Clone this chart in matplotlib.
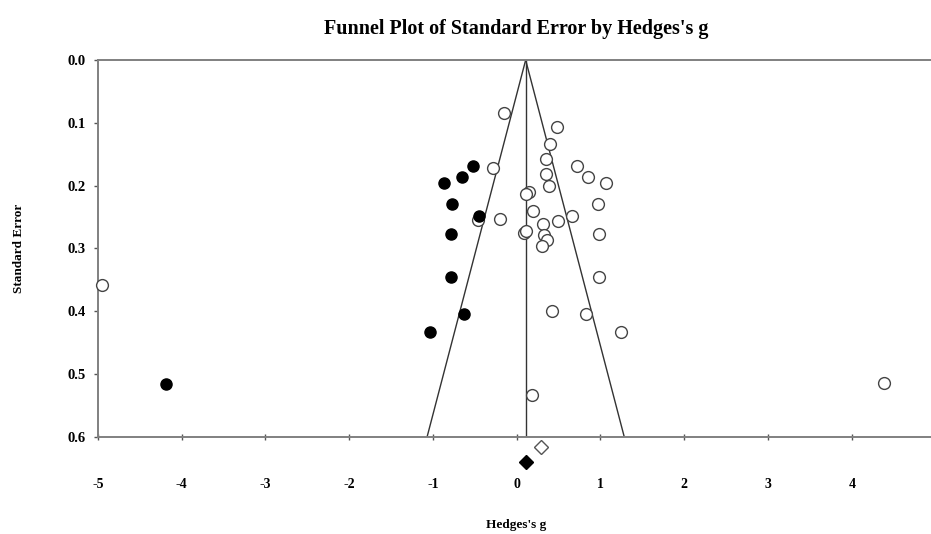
import matplotlib.pyplot as plt

# observed studies (open circles)
obs_g = [-0.148, 0.485, 0.401, 0.346, -0.286, 0.723, 0.346, 0.851, 1.066, 0.382,
         0.147, 0.107, 0.974, 0.198, 0.656, -0.465, -0.203, 0.489, 0.318, 0.090,
         0.110, 0.322, 0.358, 0.306, 0.982, 0.982, 0.425, 0.831, 1.241, 0.179,
         -4.950, 4.387]
obs_se = [0.085, 0.106, 0.134, 0.157, 0.172, 0.169, 0.182, 0.186, 0.196, 0.201,
          0.210, 0.214, 0.229, 0.240, 0.248, 0.255, 0.254, 0.256, 0.261, 0.276,
          0.273, 0.278, 0.286, 0.297, 0.277, 0.346, 0.399, 0.404, 0.433, 0.534,
          0.359, 0.515]

# imputed studies (filled circles)
imp_g = [-0.518, -0.864, -0.649, -0.772, -0.453, -0.780, -0.784, -0.625, -1.035, -4.185]
imp_se = [0.169, 0.196, 0.187, 0.229, 0.248, 0.277, 0.346, 0.404, 0.433, 0.516]

# summary effects (diamonds below the axis)
obs_mean = 0.286
adj_mean = 0.107
obs_mean_se = 0.617
adj_mean_se = 0.641

funnel_center = 0.107
se_max = 0.6

plt.rcParams['font.family'] = ['Liberation Serif', 'DejaVu Serif']
plt.rcParams['font.weight'] = 'bold'
plt.rcParams['axes.unicode_minus'] = False

fig = plt.figure(figsize=(9.31, 5.34), dpi=100)
ax = fig.add_axes([0.105, 0.1822, 0.900, 0.7054])

# funnel
ax.plot([funnel_center, funnel_center - 1.96 * se_max], [0, se_max], color='#333333', lw=1)
ax.plot([funnel_center, funnel_center + 1.96 * se_max], [0, se_max], color='#333333', lw=1)
ax.plot([funnel_center, funnel_center], [0, se_max], color='#333333', lw=1)

ax.plot(obs_g, obs_se, 'o', ms=8.5, mfc='white', mec='#444444', mew=1, ls='none',
        clip_on=False, zorder=3)
ax.plot(imp_g, imp_se, 'o', ms=8, mfc='black', mec='black', ls='none',
        clip_on=False, zorder=4)

ax.plot([obs_mean], [obs_mean_se], 'D', ms=7, mfc='white', mec='#555555', mew=1,
        clip_on=False)
ax.plot([adj_mean], [adj_mean_se], 'D', ms=7, mfc='black', mec='black', clip_on=False)

ax.set_xlim(-5, 5)
ax.set_ylim(0.6, 0.0)
ax.set_xticks(range(-5, 6))
ax.set_yticks([0.0, 0.1, 0.2, 0.3, 0.4, 0.5, 0.6])
ax.set_yticklabels(['0.0', '0.1', '0.2', '0.3', '0.4', '0.5', '0.6'])

for s in ['left', 'bottom', 'top']:
    ax.spines[s].set_color('#808080')
    ax.spines[s].set_linewidth(1.4)
ax.spines['right'].set_visible(False)

ax.tick_params(axis='x', direction='inout', length=5, width=1, color='#555555',
               pad=27, labelsize=10)
ax.tick_params(axis='y', direction='out', length=3, width=1, color='#555555',
               pad=6, labelsize=10.5)

ax.set_ylabel('Standard Error', fontsize=9.5, fontweight='bold', labelpad=30)
fig.text(0.554, 0.016, "Hedges's g", ha='center', va='center', fontsize=9.5,
         fontweight='bold')

fig.text(0.555, 0.945, "Funnel Plot of Standard Error by Hedges's g", ha='center',
         va='center', fontsize=14.5, fontweight='bold')

fig.savefig('out.png', dpi=100)
